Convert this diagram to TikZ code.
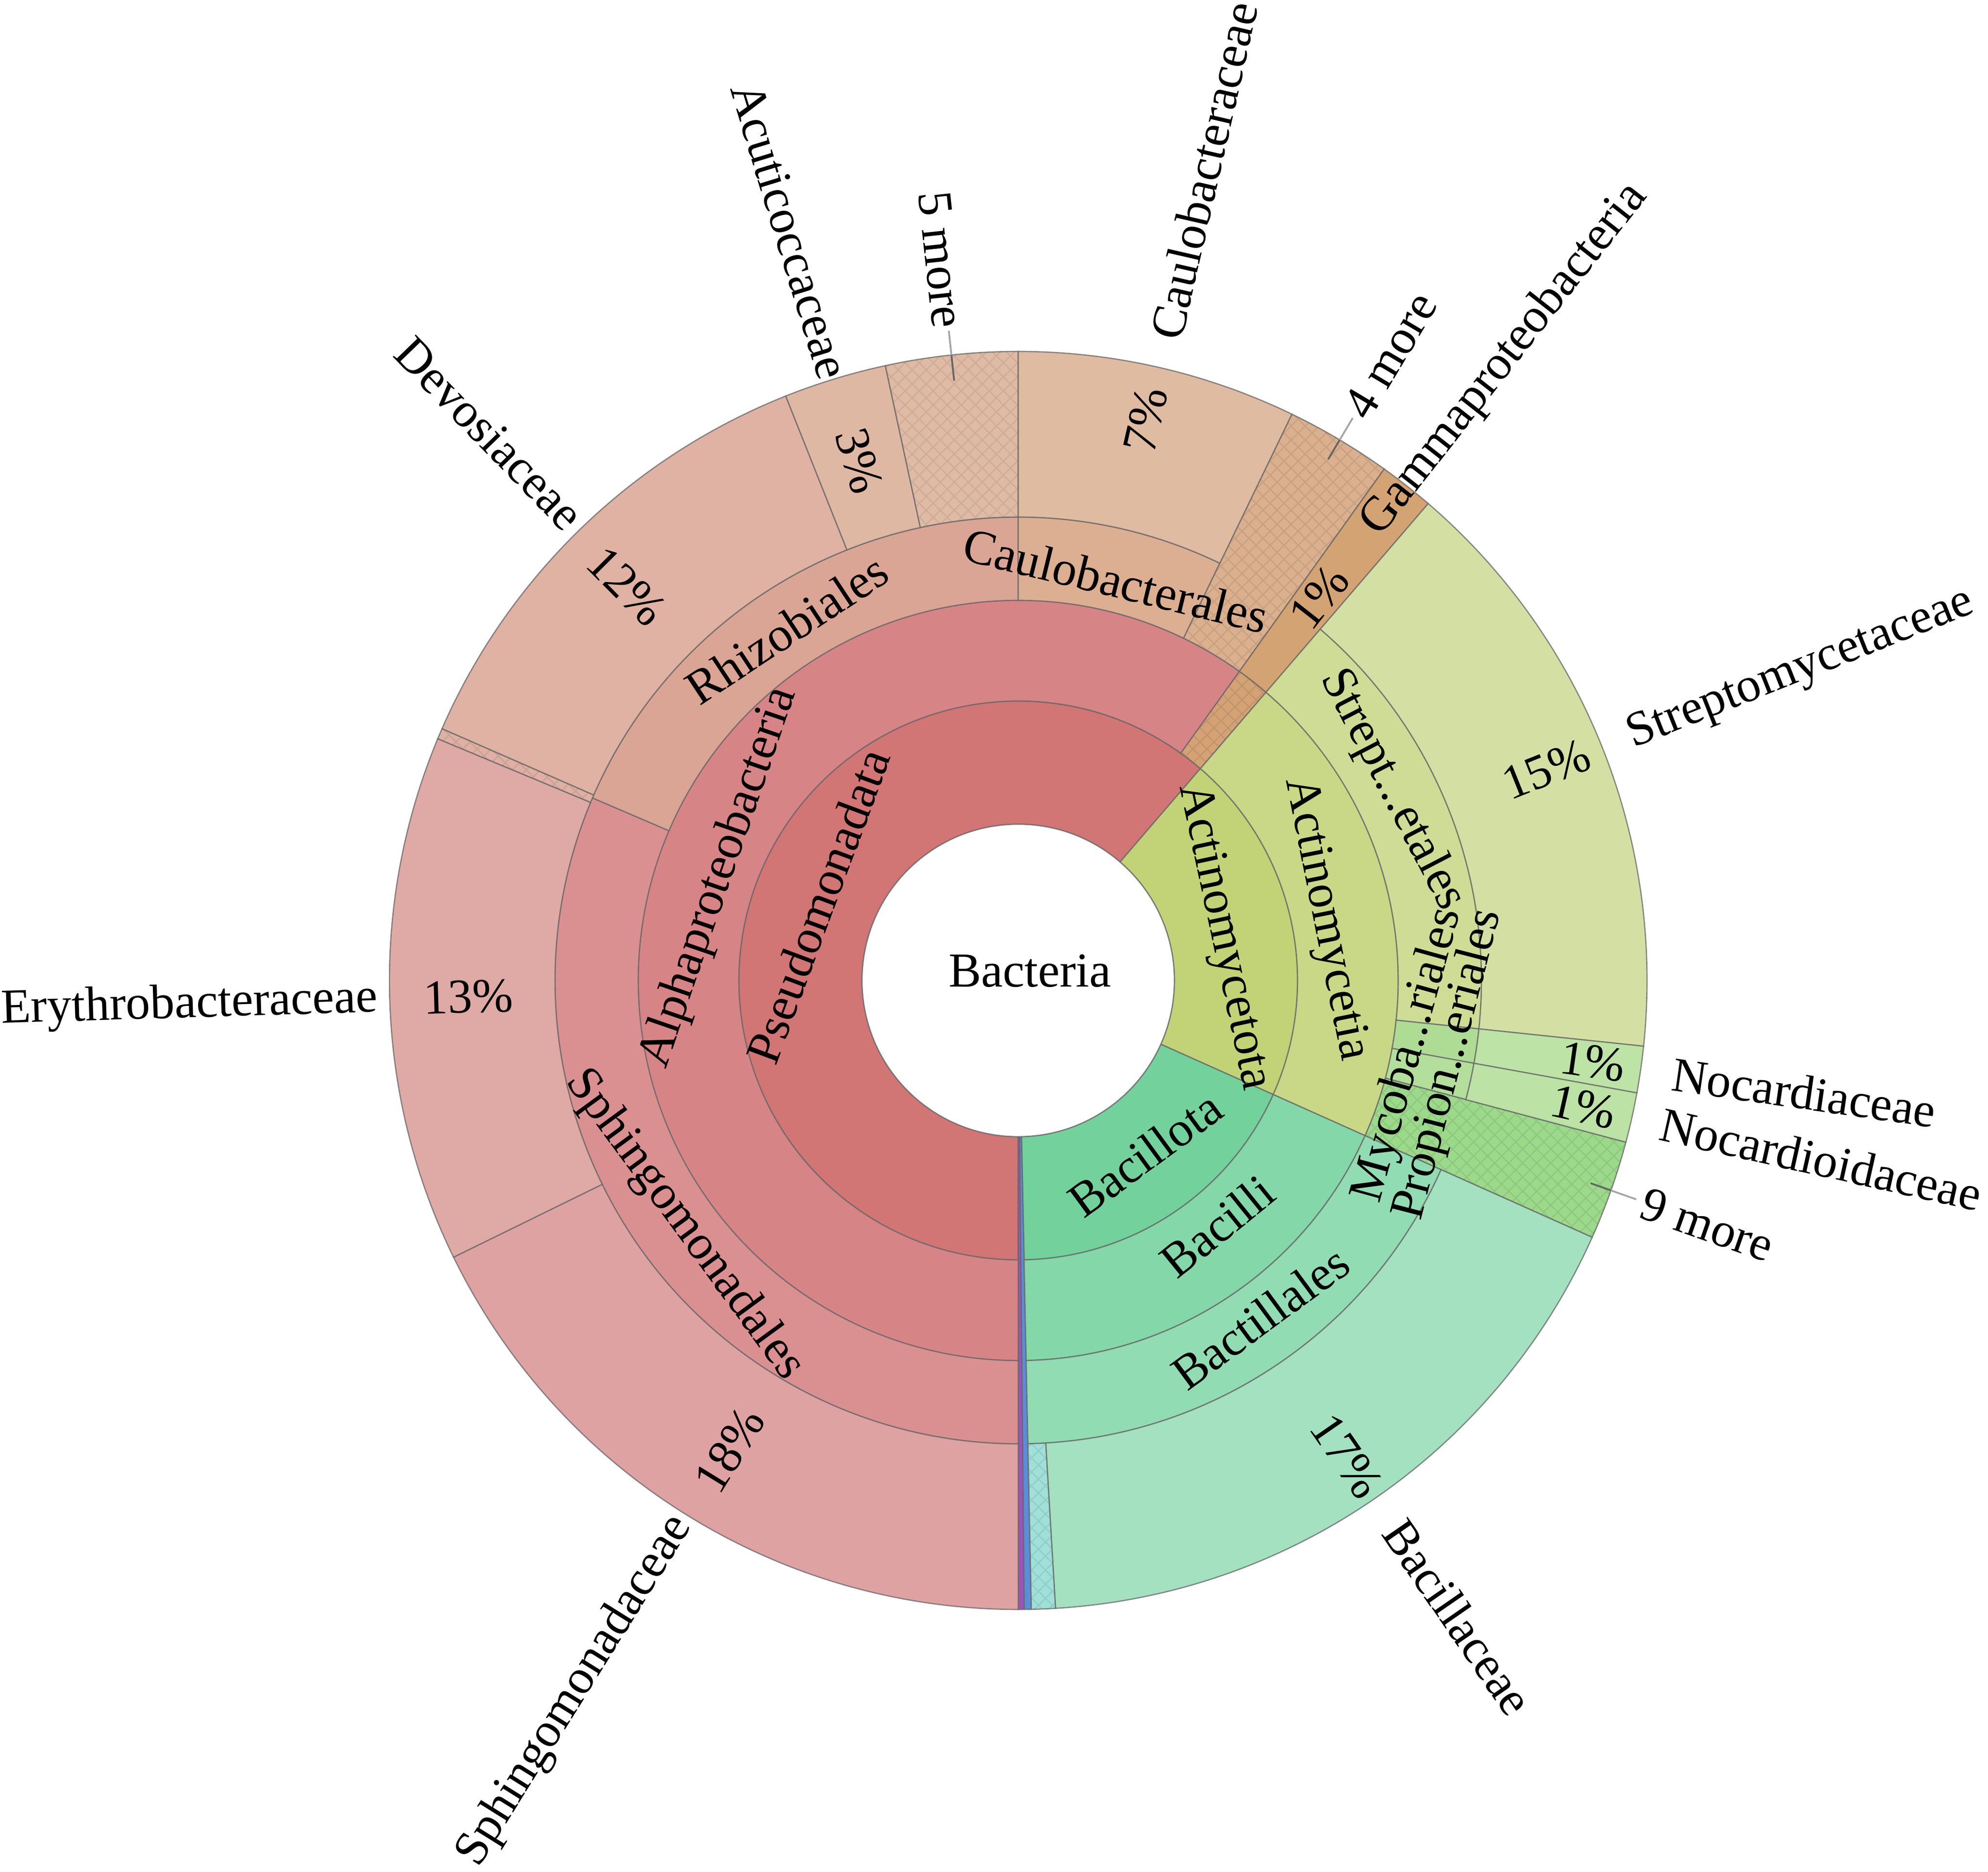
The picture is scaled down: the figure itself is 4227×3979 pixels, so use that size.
\documentclass[tikz,border=0pt]{standalone}
\usepackage{fontspec}
\setmainfont{Liberation Serif}
\usetikzlibrary{patterns.meta}

\definecolor{cPs}{HTML}{D17575}
\definecolor{cAl}{HTML}{D78486}
\definecolor{cSo}{HTML}{DA9090}
\definecolor{cRh}{HTML}{DAA594}
\definecolor{cCo}{HTML}{DCAF93}
\definecolor{cSa}{HTML}{DFA2A3}
\definecolor{cEr}{HTML}{DFAAA5}
\definecolor{cDe}{HTML}{DFB2A3}
\definecolor{cAu}{HTML}{DFB8A4}
\definecolor{cFm}{HTML}{DFBAA5}
\definecolor{cCa}{HTML}{DFBBA2}
\definecolor{cFo}{HTML}{DAB08E}
\definecolor{cGa}{HTML}{D4A275}
\definecolor{cGb}{HTML}{D4A373}
\definecolor{cAc}{HTML}{C2D276}
\definecolor{cAi}{HTML}{C8D886}
\definecolor{cSt}{HTML}{CEDC95}
\definecolor{cSm}{HTML}{D4E0A3}
\definecolor{cMy}{HTML}{AEDC95}
\definecolor{cNa}{HTML}{BDE3A6}
\definecolor{cPr}{HTML}{B3DE9B}
\definecolor{cNo}{HTML}{BCE3A5}
\definecolor{cNm}{HTML}{9DD98B}
\definecolor{cBa}{HTML}{73D19B}
\definecolor{cBi}{HTML}{84D7A8}
\definecolor{cBl}{HTML}{92DCB3}
\definecolor{cBc}{HTML}{A3E1C0}
\definecolor{cCy}{HTML}{A0E0D8}
\definecolor{cPu}{HTML}{9B55B9}
\definecolor{cBu}{HTML}{5B8DD8}
\definecolor{cSl}{HTML}{DFB0A3}

\tikzset{
  wl/.style={draw=black!60, draw opacity=0.75, line width=0.75pt},
  hatchp/.style={pattern={Hatch[angle=45,distance=6pt,line width=0.8pt]}, pattern color=#1},
  lbl/.style={inner sep=0pt, font=\fontsize{29.5pt}{35pt}\selectfont},
  leadin/.style={draw=black!60, line width=1.1pt},
  leadout/.style={draw=black!35, line width=1.1pt},
}

% #1 style, #2 inner radius, #3 outer radius, #4 start angle, #5 end angle
\newcommand\wg[5]{\path[#1] (#4:#2) arc[start angle=#4, end angle=#5, radius=#2] -- (#5:#3) arc[start angle=#5, end angle=#4, radius=#3] -- cycle;}
\newcommand\sw[5]{\wg{fill=#5, wl}{#1}{#2}{#3}{#4}}
\newcommand\hw[6]{\wg{fill=#5}{#1}{#2}{#3}{#4}\wg{hatchp=#6}{#1}{#2}{#3}{#4}\wg{wl}{#1}{#2}{#3}{#4}}

\begin{document}
\begin{tikzpicture}[x=0.01cm, y=0.01cm]
\useasboundingbox (-2165,-1895) rectangle (2062,2084);

% ring 1
\sw{332}{594}{49.3}{270}{cPs}
\sw{332}{594}{-24.1}{49.3}{cAc}
\sw{332}{594}{-88.8}{-24.1}{cBa}
\sw{332}{1337}{-90}{-89.45}{cPu}
\sw{332}{1337}{-89.45}{-88.8}{cBu}
% ring 2
\sw{594}{808}{54.4}{270}{cAl}
\hw{594}{808}{49.3}{54.4}{cGa}{cGa!92!black}
\sw{594}{808}{-24.1}{49.3}{cAi}
\sw{594}{808}{-88.8}{-24.1}{cBi}
% ring 3
\sw{808}{985}{156.8}{270}{cSo}
\sw{808}{985}{90}{156.8}{cRh}
\sw{808}{985}{64.2}{90}{cCo}
\hw{808}{1337}{54.4}{64.2}{cFo}{cFo!92!black}
\sw{808}{1337}{49.3}{54.4}{cGb}
\sw{808}{985}{-6.0}{49.3}{cSt}
\sw{808}{985}{-10.3}{-6.0}{cMy}
\sw{808}{985}{-14.9}{-10.3}{cPr}
\hw{808}{1337}{-24.1}{-14.9}{cNm}{cNm!92!black}
\sw{808}{985}{-88.8}{-24.1}{cBl}
% ring 4
\sw{985}{1337}{206.1}{270}{cSa}
\sw{985}{1337}{157.4}{206.1}{cEr}
\hw{985}{1337}{156.4}{157.4}{cSl}{cSl!92!black}
\sw{985}{1337}{111.7}{156.4}{cDe}
\sw{985}{1337}{102.2}{111.7}{cAu}
\hw{985}{1337}{90}{102.2}{cFm}{cFm!93!black}
\sw{985}{1337}{64.2}{90}{cCa}
\sw{985}{1337}{-6.0}{49.3}{cSm}
\sw{985}{1337}{-10.3}{-6.0}{cNa}
\sw{985}{1337}{-14.9}{-10.3}{cNo}
\sw{985}{1337}{-86.6}{-24.1}{cBc}
\hw{985}{1337}{-88.8}{-86.6}{cCy}{cCy!92!black}

% centre
\draw[wl, fill=white] (0,0) circle[radius=332];
\node[lbl] (bact) at (25,20) {Bacteria};

% inner ring labels
\node[lbl, rotate=69.6] (pseu) at (159.6:455) {Pseudomonadata};
\node[lbl, rotate=-78] (actp) at (12:445) {Actinomycetota};
\node[lbl, rotate=36.2] (baco) at (-53.8:457) {Bacillota};
\node[lbl, rotate=71] (alph) at (161:672) {Alphaproteobacteria};
\node[lbl, rotate=-78.7] (acti) at (11.3:665) {Actinomycetia};
\node[lbl, rotate=39] (baci) at (-51:672) {Bacilli};
\node[lbl, rotate=-53.8] (spho) at (216.2:880) {Sphingomonadales};
\node[lbl, rotate=33.4] (rhiz) at (123.4:895) {Rhizobiales};
\node[lbl, rotate=-13.7] (caul) at (76.3:875) {Caulobacterales};
\node[lbl, rotate=-62.5] (stre) at (27:892) {Strept...etales};
\node[lbl, rotate=74.5] (myco) at (-10.85:845) {Mycoba...riales};
\node[lbl, rotate=75.5] (prop) at (-11.06:933) {Propion...eriales};
\node[lbl, rotate=36.3] (bacl) at (-54.3:882) {Bactillales};

% percentages
\node[lbl, rotate=58.4] (p18) at (238.4:1172) {18\%};
\node[lbl, rotate=1.7] (p13) at (181.7:1170) {13\%};
\node[lbl, rotate=-45.2] (p12) at (134.8:1181) {12\%};
\node[lbl, rotate=-73] (p3) at (107:1155) {3\%};
\node[lbl, rotate=77.2] (p7) at (77.2:1222) {7\%};
\node[lbl, rotate=51.9] (pg) at (51.9:1036) {1\%};
\node[lbl, rotate=21.8] (p15) at (21.8:1209) {15\%};
\node[lbl, rotate=-8.05] (pn1) at (-8.05:1234) {1\%};
\node[lbl, rotate=-12.6] (pn2) at (-12.6:1231) {1\%};
\node[lbl, rotate=-55.35] (p17) at (-55.35:1229) {17\%};

% outer names, left side
\node[lbl, anchor=east, rotate=58.05] (nsph) at (238.05:1350) {Sphingomonadaceae};
\node[lbl, anchor=east, rotate=1.75] (nery) at (181.75:1362) {Erythrobacteraceae};
\node[lbl, anchor=east, rotate=-45.95] (ndev) at (134.05:1355) {Devosiaceae};
\node[lbl, anchor=east, rotate=-73.05] (nacu) at (106.95:1340) {Acuticoccaceae};
\node[lbl, anchor=east, rotate=-83.9] (nm5) at (96.1:1395) {5 more};
% outer names, right side
\node[lbl, anchor=west, rotate=77.1] (ncau) at (77.1:1400) {Caulobacteraceae};
\node[lbl, anchor=west, rotate=59.25] (nm4) at (59.25:1400) {4 more};
\node[lbl, anchor=west, rotate=51.9] (ngam) at (51.9:1215) {Gammaproteobacteria};
\node[lbl, anchor=west, rotate=21.65] (nstr) at (21.65:1398) {Streptomycetaceae};
\node[lbl, anchor=west, rotate=-8.1] (nnoc) at (-8.1:1405) {Nocardiaceae};
\node[lbl, anchor=west, rotate=-12.55] (nnod) at (-12.55:1400) {Nocardioidaceae};
\node[lbl, anchor=west, rotate=-19.5] (nm9) at (-19.5:1408) {9 more};
\node[lbl, anchor=west, rotate=-55.35] (nbac) at (-55.35:1405) {Bacillaceae};

% leader lines
\coordinate (a5) at (96.1:1282); \coordinate (b5) at (96.1:1337); \coordinate (c5) at (96.1:1389);
\coordinate (a4) at (59.25:1289); \coordinate (b4) at (59.25:1337); \coordinate (c4) at (59.25:1391);
\coordinate (a9) at (-19.5:1291); \coordinate (b9) at (-19.5:1337); \coordinate (c9) at (-19.5:1394);
\draw[leadin] (a5) -- (b5); \draw[leadout] (b5) -- (c5);
\draw[leadin] (a4) -- (b4); \draw[leadout] (b4) -- (c4);
\draw[leadin] (a9) -- (b9); \draw[leadout] (b9) -- (c9);
\end{tikzpicture}
\end{document}
